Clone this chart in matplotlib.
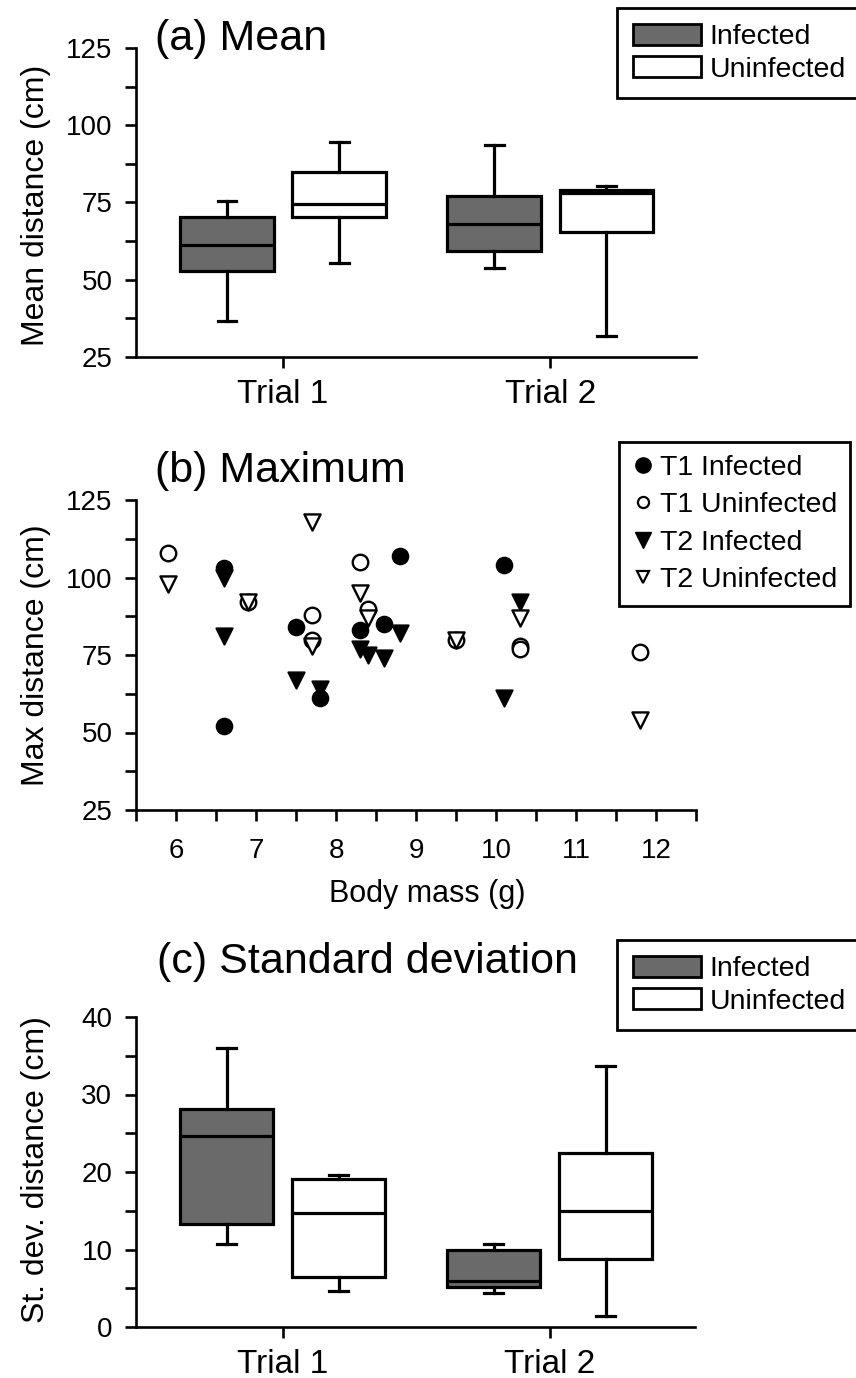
import matplotlib
matplotlib.use('Agg')
import matplotlib.pyplot as plt
from matplotlib.patches import Patch
from matplotlib.lines import Line2D
from matplotlib.ticker import MultipleLocator

plt.rcParams['font.family'] = ['Liberation Sans', 'DejaVu Sans']

trials = ['Trial 1', 'Trial 2']
groups = ['Infected', 'Uninfected']

# box summaries per trial: lower whisker, Q1, median, Q3, upper whisker
mean_infected = [[36.8, 52.7, 61.2, 70.2, 75.6], [53.7, 59.4, 68.0, 77.0, 93.5]]
mean_uninfected = [[55.5, 70.2, 74.5, 85.0, 94.7], [31.7, 65.5, 78.2, 79.2, 80.4]]
sd_infected = [[10.7, 13.3, 24.7, 28.1, 36.0], [4.4, 5.2, 6.0, 10.0, 10.7]]
sd_uninfected = [[4.6, 6.5, 14.7, 19.1, 19.6], [1.4, 8.8, 15.0, 22.5, 33.7]]

# body mass (g) against maximum distance (cm)
t1_inf_mass = [6.6, 6.6, 7.5, 7.8, 8.3, 8.6, 8.8, 10.1]
t1_inf_max = [103, 52, 84, 61, 83, 85, 107, 104]
t1_uninf_mass = [5.9, 6.9, 7.7, 7.7, 8.3, 8.4, 9.5, 10.3, 10.3, 11.8]
t1_uninf_max = [108, 92, 88, 80, 105, 90, 80, 78, 77, 76]
t2_inf_mass = [6.6, 6.6, 7.5, 7.8, 8.3, 8.4, 8.6, 8.8, 10.1, 10.3]
t2_inf_max = [100, 81, 67, 64, 77, 75, 74, 82, 61, 92]
t2_uninf_mass = [5.9, 6.9, 7.7, 7.7, 8.3, 8.4, 9.5, 10.3, 11.8]
t2_uninf_max = [98, 92, 118, 78, 95, 87, 80, 87, 54]

GREY = '#6a6a6a'
LW = 2.3
W, H = 856, 1378
TITLE_SIZE = 31
YLABEL_SIZE = 23

fig = plt.figure(figsize=(W / 100, H / 100), dpi=100)


def axes_px(left, top, right, bottom):
    return fig.add_axes([left / W, 1 - bottom / H, (right - left) / W, (bottom - top) / H])


def style(ax):
    for s in ['top', 'right']:
        ax.spines[s].set_visible(False)
    for s in ['left', 'bottom']:
        ax.spines[s].set_linewidth(1.9)
    ax.tick_params(which='both', direction='out', length=8, width=1.9, labelsize=20)
    ax.tick_params(axis='y', pad=9)


def summaries(rows):
    return [dict(whislo=r[0], q1=r[1], med=r[2], q3=r[3], whishi=r[4], fliers=[]) for r in rows]


def box_panel(ax, infected, uninfected):
    for rows, colour, shift in [(infected, GREY, -0.21), (uninfected, 'white', 0.21)]:
        ax.bxp(summaries(rows), positions=[1 + shift, 2 + shift], widths=0.35,
               patch_artist=True, showfliers=False, capwidths=0.07,
               boxprops=dict(facecolor=colour, edgecolor='black', linewidth=LW),
               medianprops=dict(color='black', linewidth=LW),
               whiskerprops=dict(color='black', linewidth=LW),
               capprops=dict(color='black', linewidth=LW))
    ax.set_xlim(0.45, 2.545)
    ax.set_xticks([1, 2])
    ax.set_xticklabels(trials, fontsize=24)
    ax.tick_params(axis='x', pad=8)


def box_legend(y_top):
    handles = [Patch(facecolor=GREY, edgecolor='black', linewidth=2),
               Patch(facecolor='white', edgecolor='black', linewidth=2)]
    leg = fig.legend(handles, groups, loc='upper left', bbox_to_anchor=(617 / W, 1 - y_top / H),
                     fontsize=20.5, fancybox=False, edgecolor='black', framealpha=1,
                     handlelength=2.4, handleheight=0.75, handletextpad=0.3,
                     labelspacing=0.22, borderpad=0.55, borderaxespad=0)
    leg.get_frame().set_linewidth(2)


# (a) mean distance
ax_a = axes_px(136, 48, 696, 357)
style(ax_a)
box_panel(ax_a, mean_infected, mean_uninfected)
ax_a.set_ylim(25, 125)
ax_a.yaxis.set_major_locator(MultipleLocator(25))
ax_a.yaxis.set_minor_locator(MultipleLocator(12.5))
fig.text(155 / W, 1 - 50 / H, '(a) Mean', fontsize=TITLE_SIZE, va='baseline')
fig.text(36 / W, 1 - 205 / H, 'Mean distance (cm)', fontsize=YLABEL_SIZE, rotation=90,
         ha='center', va='center')
box_legend(8)

# (b) maximum distance against body mass
ax_b = axes_px(136, 500, 696, 810)
style(ax_b)
ax_b.scatter(t2_inf_mass, t2_inf_max, s=135, marker='v', facecolor='black',
             edgecolor='black', linewidths=1.5, zorder=3)
ax_b.scatter(t1_inf_mass, t1_inf_max, s=125, marker='o', facecolor='black',
             edgecolor='black', linewidths=1.5, zorder=3)
ax_b.scatter(t1_uninf_mass, t1_uninf_max, s=125, marker='o', facecolor='white',
             edgecolor='black', linewidths=1.7, zorder=3)
ax_b.scatter(t2_uninf_mass, t2_uninf_max, s=135, marker='v', facecolor='white',
             edgecolor='black', linewidths=1.7, zorder=4)
ax_b.set_xlim(5.5, 12.5)
ax_b.set_ylim(25, 125)
ax_b.xaxis.set_major_locator(MultipleLocator(1))
ax_b.xaxis.set_minor_locator(MultipleLocator(0.5))
ax_b.yaxis.set_major_locator(MultipleLocator(25))
ax_b.yaxis.set_minor_locator(MultipleLocator(12.5))
ax_b.tick_params(axis='x', pad=12)
fig.text(155 / W, 1 - 482 / H, '(b) Maximum', fontsize=TITLE_SIZE, va='baseline')
fig.text(36 / W, 1 - 655 / H, 'Max distance (cm)', fontsize=YLABEL_SIZE, rotation=90,
         ha='center', va='center')
fig.text(427 / W, 1 - 902 / H, 'Body mass (g)', fontsize=22, ha='center', va='baseline')

marker_handles = [
    Line2D([], [], linestyle='none', marker='o', markersize=11, markerfacecolor='black', markeredgecolor='black'),
    Line2D([], [], linestyle='none', marker='o', markersize=8, markerfacecolor='white', markeredgecolor='black', markeredgewidth=1.6),
    Line2D([], [], linestyle='none', marker='v', markersize=11, markerfacecolor='black', markeredgecolor='black'),
    Line2D([], [], linestyle='none', marker='v', markersize=9, markerfacecolor='white', markeredgecolor='black', markeredgewidth=1.6),
]
leg_b = fig.legend(marker_handles, ['T1 Infected', 'T1 Uninfected', 'T2 Infected', 'T2 Uninfected'],
                   loc='upper left', bbox_to_anchor=(619 / W, 1 - 442 / H), fontsize=20.5,
                   fancybox=False, edgecolor='black', framealpha=1, handlelength=0.8,
                   handletextpad=0.2, labelspacing=0.4, borderpad=0.45, borderaxespad=0)
leg_b.get_frame().set_linewidth(2)

# (c) standard deviation of distance
ax_c = axes_px(136, 1017, 695, 1327)
style(ax_c)
box_panel(ax_c, sd_infected, sd_uninfected)
ax_c.set_ylim(0, 40)
ax_c.yaxis.set_major_locator(MultipleLocator(10))
ax_c.yaxis.set_minor_locator(MultipleLocator(5))
fig.text(157 / W, 1 - 973 / H, '(c) Standard deviation', fontsize=TITLE_SIZE, va='baseline')
fig.text(36 / W, 1 - 1170 / H, 'St. dev. distance (cm)', fontsize=YLABEL_SIZE, rotation=90,
         ha='center', va='center')
box_legend(940)

fig.savefig('out.png', dpi=100)
